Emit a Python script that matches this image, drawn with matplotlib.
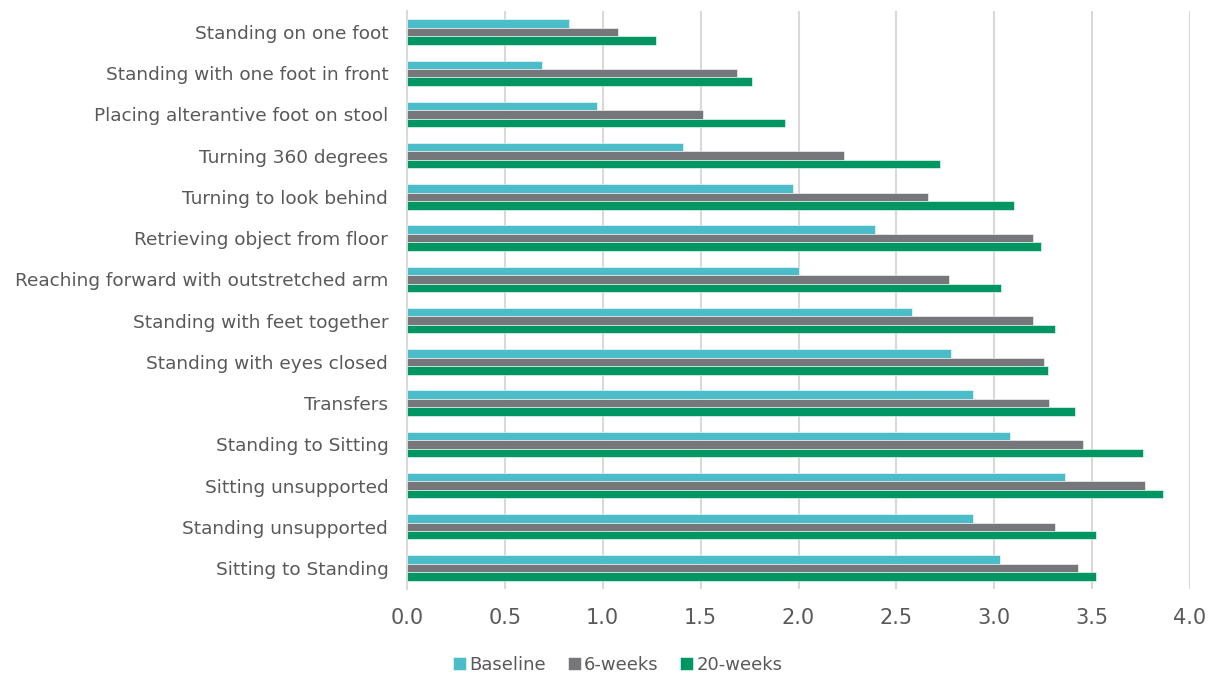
import matplotlib.pyplot as plt
import numpy as np

# Berg balance items, top to bottom as shown
items = [
    "Standing on one foot",
    "Standing with one foot in front",
    "Placing alterantive foot on stool",
    "Turning 360 degrees",
    "Turning to look behind",
    "Retrieving object from floor",
    "Reaching forward with outstretched arm",
    "Standing with feet together",
    "Standing with eyes closed",
    "Transfers",
    "Standing to Sitting",
    "Sitting unsupported",
    "Standing unsupported",
    "Sitting to Standing",
]
baseline = [0.83, 0.69, 0.97, 1.41, 1.97, 2.39, 2.00, 2.58, 2.78, 2.89, 3.08, 3.36, 2.89, 3.03]
weeks6 = [1.08, 1.685, 1.51, 2.23, 2.66, 3.20, 2.77, 3.20, 3.255, 3.28, 3.455, 3.77, 3.31, 3.43]
weeks20 = [1.27, 1.76, 1.93, 2.725, 3.10, 3.24, 3.035, 3.31, 3.275, 3.41, 3.76, 3.86, 3.52, 3.52]

series = [("Baseline", baseline, "#4BBDC8"),
          ("6-weeks", weeks6, "#76777B"),
          ("20-weeks", weeks20, "#009664")]

fig = plt.figure(figsize=(12.18, 6.74), dpi=100)
ax = fig.add_axes([407 / 1218, 1 - 588.6 / 674, (1190 - 407) / 1218, (588.6 - 11.4) / 674])

y = np.arange(len(items))
h = 0.205
for i, (name, vals, col) in enumerate(series):
    ax.barh(y + (i - 1) * h, vals, height=h, color=col, label=name,
            edgecolor="white", linewidth=0.4, zorder=3)

ax.set_ylim(len(items) - 0.5, -0.5)
ax.set_xlim(0, 4.0)
ticks = np.arange(0, 4.01, 0.5)
ax.set_xticks(ticks)
ax.set_xticklabels([f"{v:.1f}" for v in ticks])
ax.set_yticks(y)
ax.set_yticklabels(items)

ax.grid(axis="x", color="#D9D9D9", linewidth=1.5, zorder=0)
for s in ["top", "right", "bottom"]:
    ax.spines[s].set_visible(False)
ax.spines["left"].set_color("#D9D9D9")
ax.spines["left"].set_linewidth(1.5)

ax.tick_params(axis="y", length=0, pad=13.5, labelsize=13.3, labelcolor="#595959")
ax.tick_params(axis="x", length=0, pad=14, labelsize=15, labelcolor="#595959")

fig.legend(*ax.get_legend_handles_labels(), loc="center",
           bbox_to_anchor=(618 / 1218, 1 - 665 / 674), ncol=3, frameon=False,
           fontsize=13, labelcolor="#595959", handlelength=0.7, handleheight=0.7,
           handletextpad=0.2, columnspacing=1.2, borderaxespad=0, borderpad=0)

plt.savefig("out.png", dpi=100)
